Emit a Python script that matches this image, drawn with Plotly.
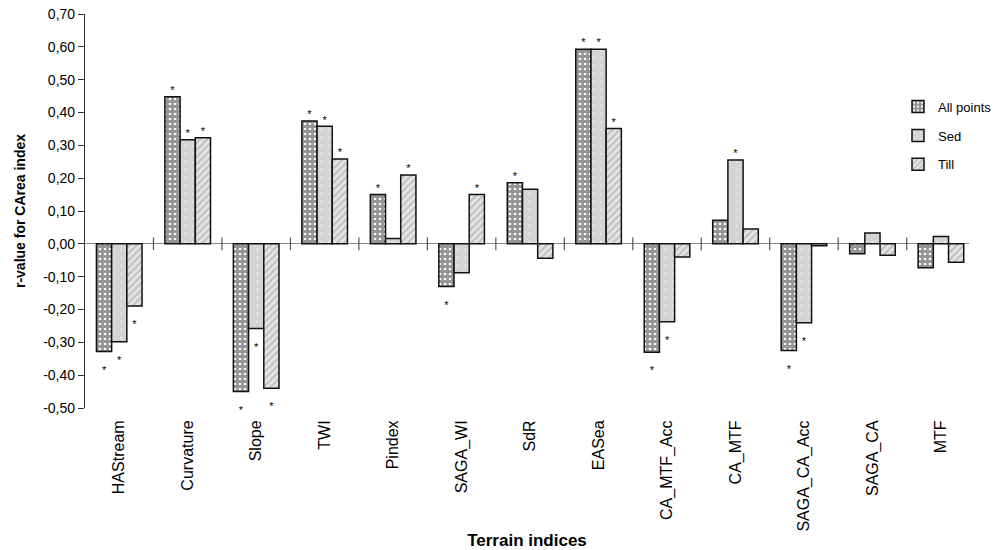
import plotly.graph_objects as go

# Terrain indices on the x axis
categories = ["HAStream", "Curvature", "Slope", "TWI", "Pindex", "SAGA_WI", "SdR",
              "EASea", "CA_MTF_Acc", "CA_MTF", "SAGA_CA_Acc", "SAGA_CA", "MTF"]

# r-values for the CArea index, one list per point set
all_points = [-0.328, 0.448, -0.450, 0.374, 0.150, -0.130, 0.186,
              0.593, -0.330, 0.072, -0.325, -0.030, -0.073]
sed = [-0.298, 0.317, -0.258, 0.358, 0.016, -0.088, 0.166,
       0.593, -0.237, 0.255, -0.240, 0.033, 0.022]
till = [-0.189, 0.323, -0.440, 0.258, 0.210, 0.150, -0.044,
        0.351, -0.040, 0.045, -0.006, -0.035, -0.056]

# significance flags (1 = marked with an asterisk)
sig_all = [1, 1, 1, 1, 1, 1, 1, 1, 1, 0, 1, 0, 0]
sig_sed = [1, 1, 1, 1, 0, 0, 0, 1, 1, 1, 1, 0, 0]
sig_till = [1, 1, 1, 1, 1, 1, 0, 1, 0, 0, 0, 0, 0]

y_ticks = [0.70, 0.60, 0.50, 0.40, 0.30, 0.20, 0.10, 0.00,
           -0.10, -0.20, -0.30, -0.40, -0.50]
y_tick_text = ["0,70", "0,60", "0,50", "0,40", "0,30", "0,20", "0,10", "0,00",
               "-0,10", "-0,20", "-0,30", "-0,40", "-0,50"]

FONT = "Liberation Sans, Arial, sans-serif"
BARGAP = 0.334
n_series = 3
bar_w = (1 - BARGAP) / n_series

x = list(range(len(categories)))

series = [
    ("All points", all_points, sig_all,
     dict(shape="+", fgcolor="#2e2e2e", bgcolor="#ffffff", size=5, solidity=0.8)),
    ("Sed", sed, sig_sed,
     dict(shape=".", fgcolor="#ffffff", bgcolor="#d4d4d4", size=8, solidity=0.06)),
    ("Till", till, sig_till,
     dict(shape="/", fgcolor="#9c9c9c", bgcolor="#e6e6e6", size=5, solidity=0.45)),
]

fig = go.Figure()

for k, (name, vals, sig, pattern) in enumerate(series):
    fig.add_trace(go.Bar(
        x=x, y=vals, name=name,
        legendgroup=name,
        marker=dict(color=pattern["bgcolor"], pattern=pattern,
                    line=dict(color="#111111", width=1.5)),
    ))

# asterisks for significant correlations: above positive bars, below negative ones
for k, (name, vals, sig, pattern) in enumerate(series):
    offset = (k - (n_series - 1) / 2) * bar_w
    sx, sy, pos = [], [], []
    for i, (v, s) in enumerate(zip(vals, sig)):
        if s:
            sx.append(i + offset)
            if v >= 0:
                sy.append(v)
                pos.append("top center")
            else:
                sy.append(v - 0.042)
                pos.append("bottom center")
    fig.add_trace(go.Scatter(
        x=sx, y=sy, mode="text", text=["*"] * len(sx), textposition=pos,
        textfont=dict(family=FONT, size=11, color="#000000"),
        showlegend=False, hoverinfo="skip", cliponaxis=False,
    ))

# category separator ticks crossing the zero line
fig.add_trace(go.Scatter(
    x=[i + 0.5 for i in x[:-1]], y=[0] * (len(x) - 1), mode="markers",
    marker=dict(symbol="line-ns", size=9, line=dict(color="#555555", width=1.2)),
    showlegend=False, hoverinfo="skip", cliponaxis=False,
))

fig.update_layout(
    width=997, height=550,
    margin=dict(l=85, r=0, t=14, b=142),
    paper_bgcolor="white", plot_bgcolor="white",
    barmode="group", bargap=BARGAP, bargroupgap=0,
    font=dict(family=FONT, size=13, color="#000000"),
    showlegend=True,
    legend=dict(x=0.92, y=0.803, xanchor="left", yanchor="top",
                bgcolor="rgba(0,0,0,0)", font=dict(family=FONT, size=13),
                tracegroupgap=9, itemwidth=30),
    xaxis=dict(
        range=[-0.5, 12.41], automargin=False,
        tickmode="array", tickvals=x, ticktext=categories,
        tickangle=-90, ticks="outside", ticklen=5, tickcolor="rgba(0,0,0,0)",
        showline=False, showgrid=False, zeroline=False,
        tickfont=dict(family=FONT, size=16),
        title=dict(text="<b>Terrain indices</b>", font=dict(family=FONT, size=17),
                   standoff=8),
    ),
    yaxis=dict(
        range=[-0.5, 0.7], automargin=False,
        tickmode="array", tickvals=y_ticks, ticktext=y_tick_text,
        ticks="outside", ticklen=6, tickwidth=1, tickcolor="#333333",
        showline=True, linecolor="#333333", linewidth=1.2,
        showgrid=False, zeroline=True, zerolinecolor="#888888", zerolinewidth=1.2,
        tickfont=dict(family=FONT, size=14),
        title=dict(text="<b>r-value for CArea index</b>",
                   font=dict(family=FONT, size=14), standoff=14),
    ),
)

fig.write_html("out.html")
